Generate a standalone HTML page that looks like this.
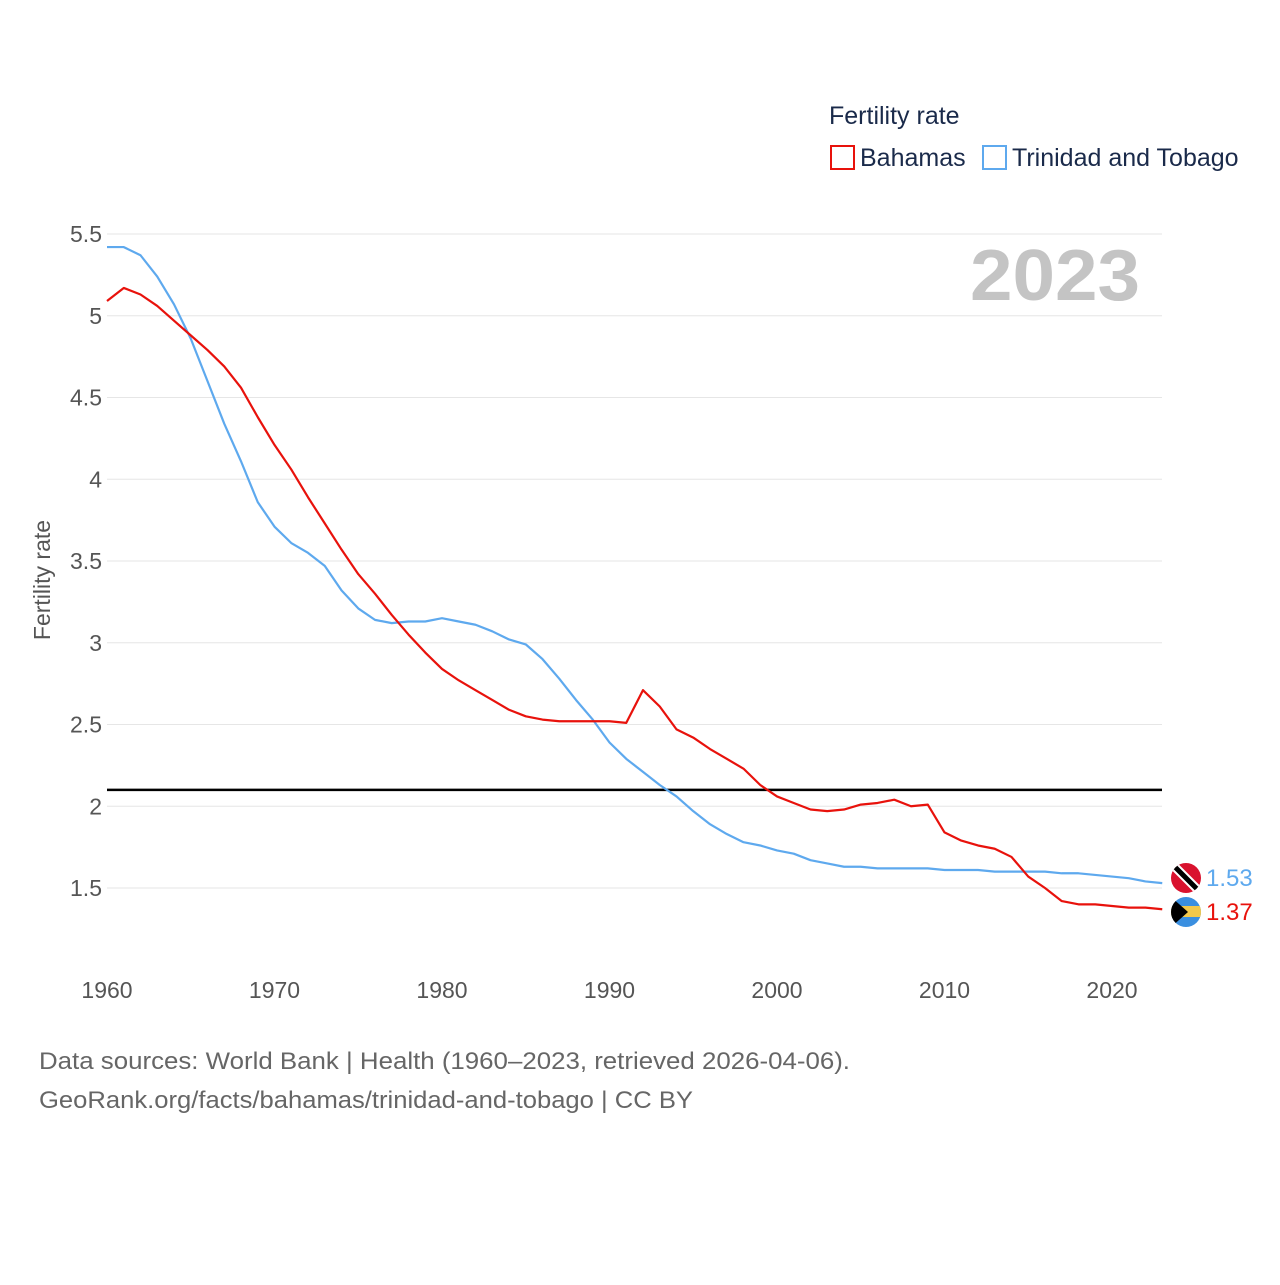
<!DOCTYPE html>
<html><head><meta charset="utf-8"><style>
body{margin:0;background:#fff;font-family:"Liberation Sans",sans-serif}
</style></head><body>
<svg id="chart" width="1280" height="1280" xmlns="http://www.w3.org/2000/svg" font-family="Liberation Sans, sans-serif">
<rect width="1280" height="1280" fill="#fff"/>
<text x="829" y="124" font-size="25" fill="#1a2a4a">Fertility rate</text>
<g><rect x="831" y="146" width="23" height="23" fill="none" stroke="#e8120c" stroke-width="2"/><text x="860" y="166" font-size="25" fill="#1a2a4a">Bahamas</text></g>
<g><rect x="983" y="146" width="23" height="23" fill="none" stroke="#5ea9ee" stroke-width="2"/><text x="1012" y="166" font-size="25" fill="#1a2a4a">Trinidad and Tobago</text></g>
<text x="970" y="300" font-size="72" font-weight="bold" fill="#c4c4c4" textLength="170" lengthAdjust="spacingAndGlyphs">2023</text>
<text transform="translate(50,580) rotate(-90)" font-size="23" fill="#555" text-anchor="middle">Fertility rate</text>
<g id="grid"></g><g id="series"></g>
<g><clipPath id="c1"><circle cx="1186" cy="878" r="15"/></clipPath><g clip-path="url(#c1)"><rect x="1170" y="862" width="32" height="32" fill="#d9122e"/><line x1="1172" y1="864" x2="1200" y2="892" stroke="#fff" stroke-width="9"/><line x1="1172" y1="864" x2="1200" y2="892" stroke="#000" stroke-width="5"/></g></g>
<g><clipPath id="c2"><circle cx="1186" cy="912" r="15"/></clipPath><g clip-path="url(#c2)"><rect x="1170" y="896" width="32" height="32" fill="#3a8fe0"/><rect x="1170" y="906" width="32" height="11" fill="#f2c84b"/><polygon points="1170,896 1188,912 1170,928" fill="#000"/></g></g>
<text x="1206" y="886" font-size="24" fill="#5ea9ee">1.53</text>
<text x="1206" y="920" font-size="24" fill="#e8120c">1.37</text>
<text x="39" y="1069" font-size="24" fill="#666" textLength="811" lengthAdjust="spacingAndGlyphs">Data sources: World Bank | Health (1960–2023, retrieved 2026-04-06).</text>
<text x="39" y="1108" font-size="24" fill="#666" textLength="654" lengthAdjust="spacingAndGlyphs">GeoRank.org/facts/bahamas/trinidad-and-tobago | CC BY</text>
</svg>
<script>
const years=[];for(let y=1960;y<=2023;y++)years.push(y);
const bahamas=[5.09,5.17,5.13,5.06,4.97,4.88,4.79,4.69,4.56,4.38,4.21,4.06,3.89,3.73,3.57,3.42,3.30,3.17,3.05,2.94,2.84,2.77,2.71,2.65,2.59,2.55,2.53,2.52,2.52,2.52,2.52,2.51,2.71,2.61,2.47,2.42,2.35,2.29,2.23,2.13,2.06,2.02,1.98,1.97,1.98,2.01,2.02,2.04,2.00,2.01,1.84,1.79,1.76,1.74,1.69,1.57,1.50,1.42,1.40,1.40,1.39,1.38,1.38,1.37];
const trinidad=[5.42,5.42,5.37,5.24,5.07,4.86,4.60,4.34,4.11,3.86,3.71,3.61,3.55,3.47,3.32,3.21,3.14,3.12,3.13,3.13,3.15,3.13,3.11,3.07,3.02,2.99,2.90,2.78,2.65,2.53,2.39,2.29,2.21,2.13,2.06,1.97,1.89,1.83,1.78,1.76,1.73,1.71,1.67,1.65,1.63,1.63,1.62,1.62,1.62,1.62,1.61,1.61,1.61,1.60,1.60,1.60,1.60,1.59,1.59,1.58,1.57,1.56,1.54,1.53];
const yTicks=[1.5,2,2.5,3,3.5,4,4.5,5,5.5];
const yTickLabels=["1.5","2","2.5","3","3.5","4","4.5","5","5.5"];
const xTicks=[1960,1970,1980,1990,2000,2010,2020];
const replacement=2.1;
const NS="http://www.w3.org/2000/svg";
const X=v=>107+(v-1960)*16.75, Y=v=>234+(5.5-v)*163.5;
const grid=document.getElementById('grid'),ser=document.getElementById('series');
function mk(tag,attrs,parent){const e=document.createElementNS(NS,tag);for(const k in attrs)e.setAttribute(k,attrs[k]);parent.appendChild(e);return e;}
yTicks.forEach((t,i)=>{
 const l=mk('line',{x1:107,x2:1162,y1:Y(t),y2:Y(t),stroke:'#e6e6e6','stroke-width':1},grid);
 
 
 const tx=mk('text',{x:102,y:Y(t)+8,'font-size':23,fill:'#555','text-anchor':'end'},grid);tx.textContent=yTickLabels[i];
 
 
});
xTicks.forEach(t=>{
 const tx=mk('text',{x:X(t),y:998,'font-size':23,fill:'#555','text-anchor':'middle'},grid);tx.textContent=t;
 
 
});
const ref=mk('line',{x1:107,x2:1162,y1:Y(replacement),y2:Y(replacement),stroke:'#000','stroke-width':2.5},ser);


function line(vals,color,name){
 const p=mk('polyline',{points:vals.map((v,i)=>X(years[i])+','+Y(v)).join(' '),fill:'none',stroke:color,'stroke-width':2.2,'stroke-linejoin':'round'},ser);
 
 
}
line(trinidad,'#5ea9ee','trinidad-line');
line(bahamas,'#e8120c','bahamas-line');
</script>
</body></html>
